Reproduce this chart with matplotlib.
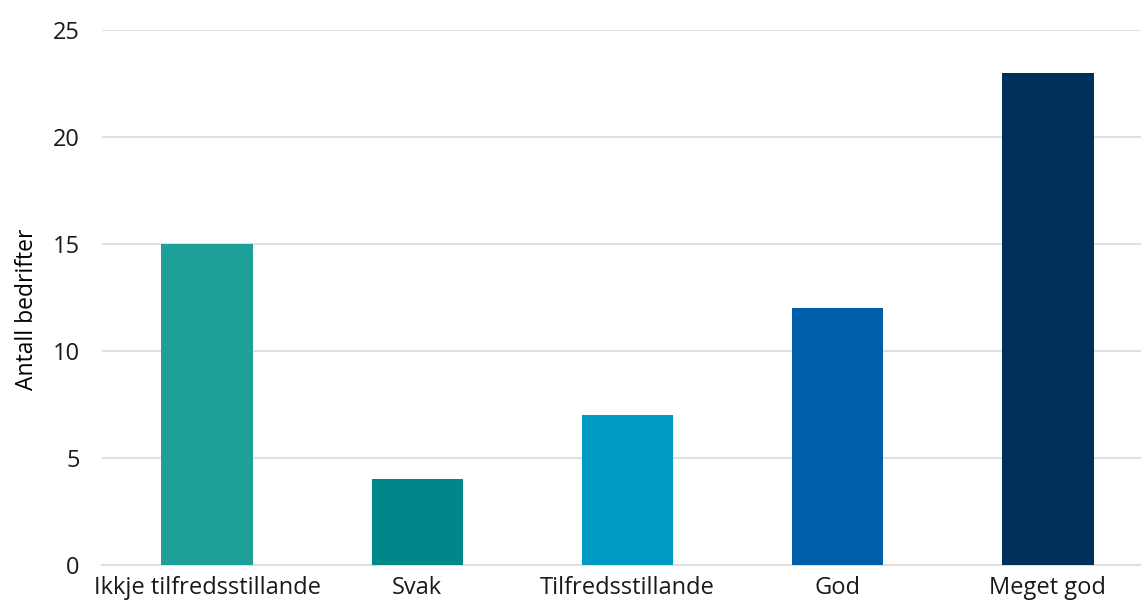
import matplotlib.pyplot as plt

# Vurdering og antall bedrifter
categories = ["Ikkje tilfredsstillande", "Svak", "Tilfredsstillande", "God", "Meget god"]
counts = [15, 4, 7, 12, 23]
colors = ["#1e9f99", "#00878a", "#009ac7", "#005ea9", "#002f5a"]

plt.rcParams['font.family'] = ['Open Sans', 'DejaVu Sans']

fig = plt.figure(figsize=(11.41, 6.06), dpi=100)
# right edge goes a bit past the figure, like the original
ax = fig.add_axes([0.0894, 0.0677, 0.9211, 0.8828])

x = range(len(categories))
ax.bar(x, counts, width=0.435, color=colors, zorder=3)

ax.set_xlim(-0.5, len(categories) - 0.5)
ax.set_ylim(0, 25)
ax.set_yticks(range(0, 26, 5))
ax.set_xticks(list(x))
ax.set_xticklabels(categories)
ax.set_ylabel("Antall bedrifter", fontsize=16.5, labelpad=10, y=0.478)

ax.tick_params(axis='both', length=0, labelsize=17, colors='#1a1a1a')
ax.tick_params(axis='x', pad=8)
ax.tick_params(axis='y', pad=16)
ax.grid(axis='y', color='#e0e0e0', linewidth=1.5, zorder=0)
for side in ['top', 'right', 'left']:
    ax.spines[side].set_visible(False)
ax.spines['bottom'].set_color('#e0e0e0')
ax.spines['bottom'].set_linewidth(1.5)

fig.savefig("out.png", dpi=100)
